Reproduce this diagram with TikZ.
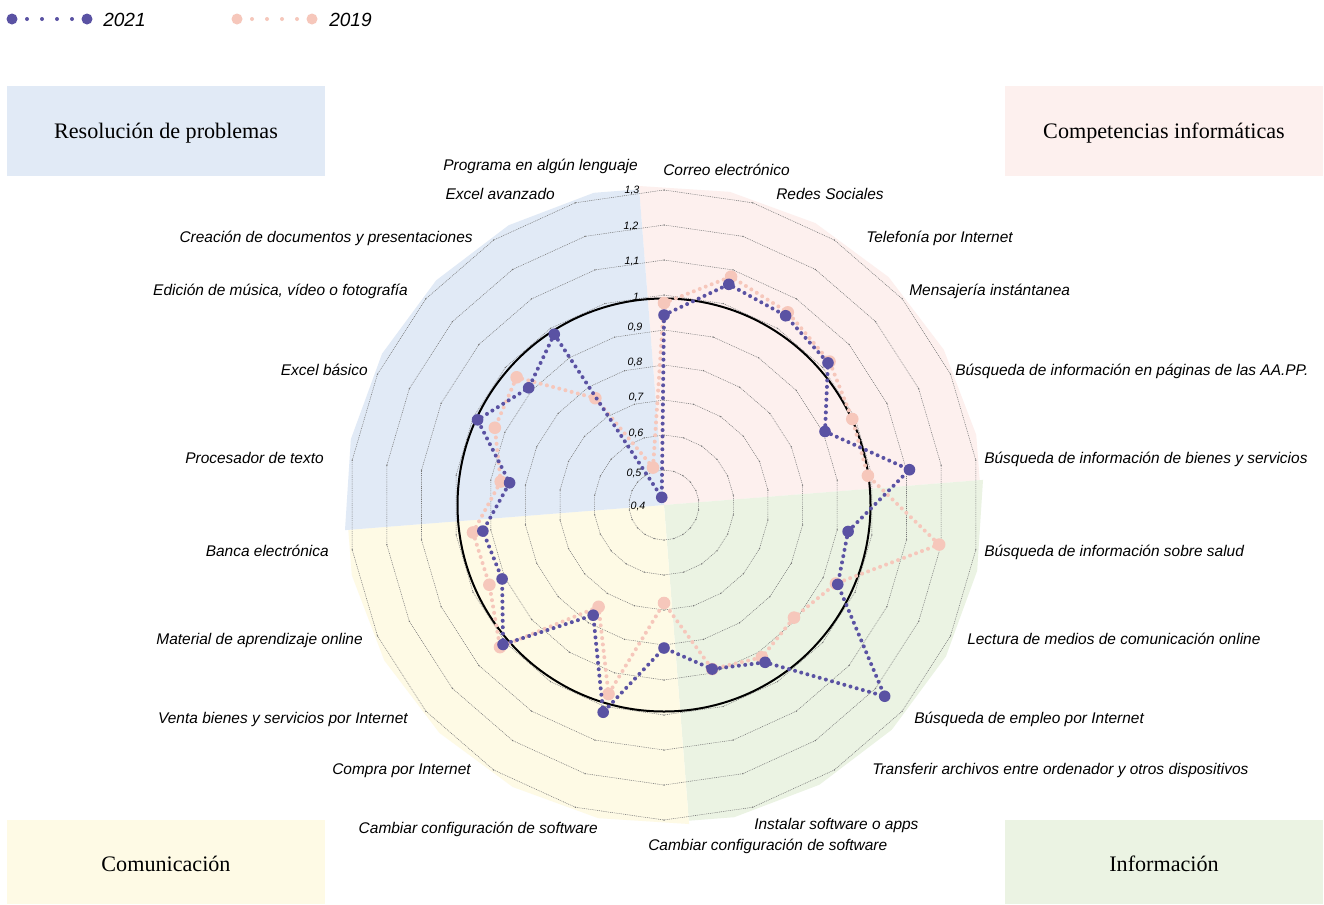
\documentclass[tikz,border=0pt]{standalone}
\usepackage{fontspec}
\setmainfont{Liberation Serif}
\setsansfont{Liberation Sans}
\usetikzlibrary{calc}

\definecolor{c21}{HTML}{5A52A3}
\definecolor{c19}{HTML}{F6C7BB}
\definecolor{bgblue}{HTML}{E1EAF6}
\definecolor{bgpink}{HTML}{FDF0EE}
\definecolor{bggreen}{HTML}{EBF3E3}
\definecolor{bgyellow}{HTML}{FEFAE5}
\definecolor{gridc}{HTML}{777777}

\begin{document}
\begin{tikzpicture}[x=0.75pt,y=-0.75pt,
  lab/.style={font=\sffamily\itshape\fontsize{11.6}{13}\selectfont, inner sep=0pt},
  labL/.style={lab, anchor=base east},
  labR/.style={lab, anchor=base west},
  scalelab/.style={font=\sffamily\itshape\fontsize{8}{9}\selectfont, inner sep=0pt},
  headbox/.style={inner sep=0pt, minimum width=238.5pt},
  headtext/.style={font=\fontsize{16.6}{19}\selectfont, inner sep=0pt, anchor=base},
  gridline/.style={draw=gridc, line width=0.4pt, dash pattern=on 0.7pt off 0.7pt},
  line21/.style={draw=c21, line width=3pt, line cap=round, dash pattern=on 0pt off 4.8pt},
  line19/.style={draw=c19, line width=3pt, line cap=round, dash pattern=on 0pt off 4.8pt},
  leg21/.style={draw=c21, line width=3pt, line cap=round, dash pattern=on 0pt off 11.25pt},
  leg19/.style={draw=c19, line width=3pt, line cap=round, dash pattern=on 0pt off 11.25pt},
  legtext/.style={font=\sffamily\itshape\fontsize{14.3}{16}\selectfont, inner sep=0pt, anchor=base west}
]
\useasboundingbox (0,0) rectangle (1324,904);
\fill[white] (0,0) rectangle (1324,904);

% legend
\coordinate (l21a) at (12,19);
\coordinate (l21b) at (87,19);
\draw[leg21] (l21a) -- (l21b);
\fill[c21] (l21a) circle[radius=5.5];
\fill[c21] (l21b) circle[radius=5.5];
\node[legtext] (t21) at (103,26.5) {2021};
\coordinate (l19a) at (237,19);
\coordinate (l19b) at (312,19);
\draw[leg19] (l19a) -- (l19b);
\fill[c19] (l19a) circle[radius=5.5];
\fill[c19] (l19b) circle[radius=5.5];
\node[legtext] (t19) at (329,26.5) {2019};

% category boxes
\node[headbox, fill=bgblue, minimum height=67.5pt] (hres) at (166,131) {};
\node[headbox, fill=bgpink, minimum height=67.5pt] (hcomp) at (1164,131) {};
\node[headbox, fill=bgyellow, minimum height=63pt] (hcom) at (166,862) {};
\node[headbox, fill=bggreen, minimum height=63pt] (hinf) at (1164,862) {};
\node[headtext] (hrest) at (166,138) {Resolución de problemas};
\node[headtext] (hcompt) at (1164,138) {Competencias informáticas};
\node[headtext] (hcomt) at (166,871) {Comunicación};
\node[headtext] (hinft) at (1164,871) {Información};

\begin{scope}[shift={(664,505)}]
  \coordinate (C) at (0,0);
  % background quadrants
  \foreach \s/\col in {-4.5/bgpink, 85.5/bggreen, 175.5/bgyellow, 265.5/bgblue}{
    \fill[\col] (C) \foreach \k in {0,...,5}{ -- ({\s+\k*16.3636-90}:320) } -- ({\s}:316.7) -- cycle;
  }
  % grid rings
  \foreach \j in {1,...,9}{
    \draw[gridline] (-90:{35*\j}) \foreach \k in {1,...,21}{ -- ({\k*360/22-90}:{35*\j}) } -- cycle;
    \foreach \k in {0,...,21}{ \fill[gridc] ({\k*360/22-90}:{35*\j}) circle[radius=0.75]; }
  }
  % reference circle (value 1)
  \draw[black, line width=1.5pt] (C) circle[radius=206.5];

  % data
  \foreach \r [count=\i from 0] in {190,230,225,217,177,248,186,191,292,187,171,143,216,131,213,178,183,156,205,179,203,8}{
    \coordinate (a\i) at ({\i*360/22-90}:\r);
  }
  \foreach \r [count=\i from 0] in {202,238,229,219,207,206,278,189,172,181,171,98,197,121,217,192,193,165,186,195,127,39}{
    \coordinate (b\i) at ({\i*360/22-90}:\r);
  }
  \draw[line19] (b0) \foreach \i in {1,...,21}{ -- (b\i) } -- cycle;
  \foreach \i in {0,...,21}{ \fill[c19] (b\i) circle[radius=6.3]; }
  \draw[line21] (a0) \foreach \i in {1,...,21}{ -- (a\i) } -- cycle;
  \foreach \i in {0,...,21}{ \fill[c21] (a\i) circle[radius=5.8]; }
\end{scope}

% scale labels
\node[scalelab] (s13) at (632,190) {1,3};
\node[scalelab] (s12) at (631,226) {1,2};
\node[scalelab] (s11) at (632,262) {1,1};
\node[scalelab] (s10) at (636,297) {1};
\node[scalelab] (s09) at (635,327) {0,9};
\node[scalelab] (s08) at (635,362) {0,8};
\node[scalelab] (s07) at (636,397) {0,7};
\node[scalelab] (s06) at (636,433) {0,6};
\node[scalelab] (s05) at (634,473) {0,5};
\node[scalelab] (s04) at (638,506) {0,4};

% axis labels, left side
\node[labL] (n21) at (638,170.5) {Programa en algún lenguaje};
\node[labL] (n20) at (555,199.5) {Excel avanzado};
\node[labL] (n19) at (473,242.5) {Creación de documentos y presentaciones};
\node[labL] (n18) at (408,295.5) {Edición de música, vídeo o fotografía};
\node[labL] (n17) at (368,375.5) {Excel básico};
\node[labL] (n16) at (324,463.5) {Procesador de texto};
\node[labL] (n15) at (329,556.5) {Banca electrónica};
\node[labL] (n14) at (363,644.5) {Material de aprendizaje online};
\node[labL] (n13) at (408,723.5) {Venta bienes y servicios por Internet};
\node[labL] (n12) at (471,774.5) {Compra por Internet};
\node[labL] (n12b) at (598,833.5) {Cambiar configuración de software};
% axis labels, right side
\node[labR] (n0) at (663,175.5) {Correo electrónico};
\node[labR] (n1) at (776,199.5) {Redes Sociales};
\node[labR] (n2) at (866,242.5) {Telefonía por Internet};
\node[labR] (n3) at (909,295.5) {Mensajería instántanea};
\node[labR] (n4) at (955,375.5) {Búsqueda de información en páginas de las AA.PP.};
\node[labR] (n5) at (984,463.5) {Búsqueda de información de bienes y servicios};
\node[labR] (n6) at (984,556.5) {Búsqueda de información sobre salud};
\node[labR] (n7) at (967,644.5) {Lectura de medios de comunicación online};
\node[labR] (n8) at (914,723.5) {Búsqueda de empleo por Internet};
\node[labR] (n9) at (872,774.5) {Transferir archivos entre ordenador y otros dispositivos};
\node[labR] (n10) at (754,829.5) {Instalar software o apps};
\node[labR] (n11) at (648,850.5) {Cambiar configuración de software};
\end{tikzpicture}
\end{document}
